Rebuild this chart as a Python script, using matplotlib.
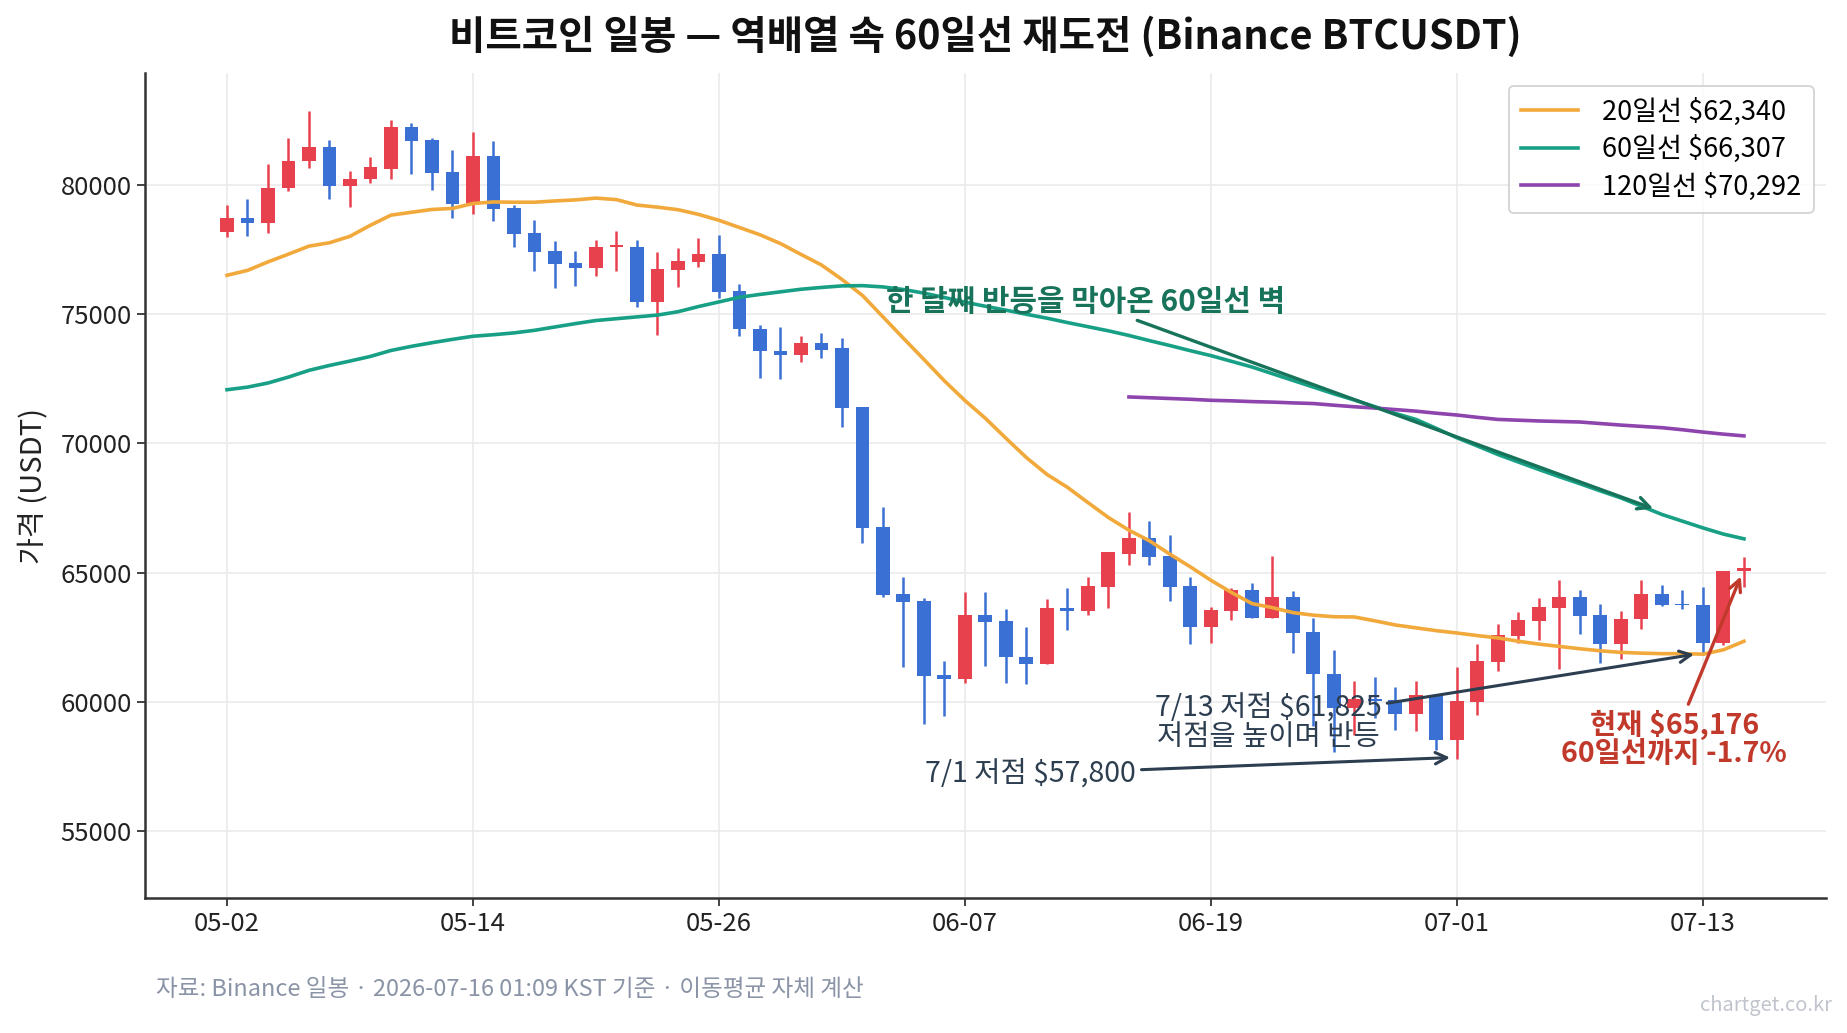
import matplotlib
matplotlib.use("Agg")
import matplotlib.pyplot as plt
import numpy as np

plt.rcParams['font.family'] = ['Noto Sans CJK KR', 'DejaVu Sans']

# 일봉 OHLC (05-02 ~ 07-15)
OPEN = [78190, 78720, 78540, 79880, 80930, 81470, 79970, 80230, 80630, 82250,
        81760, 80520, 79280, 81120, 79120, 78150, 77450, 76980, 76800, 77600,
        77620, 75480, 76720, 77020, 77350, 75900, 74440, 73590, 73410, 73890,
        73680, 71400, 66750, 64160, 63880, 61050, 60880, 63360, 63120, 61740,
        61470, 63620, 63510, 64440, 65720, 66340, 65650, 64480, 62910, 63520,
        64330, 63260, 64060, 62700, 61080, 59770, 60090, 60060, 59530, 60270,
        58530, 59980, 61520, 62560, 63120, 63630, 64050, 63340, 62230, 63190,
        64180, 63800, 63760, 62270, 65060]
HIGH = [79230, 79460, 80810, 81810, 82870, 81740, 80540, 81080, 82520, 82420,
        81840, 81360, 82050, 81700, 79230, 78640, 77830, 77440, 77870, 78220,
        77880, 77420, 77560, 77940, 78080, 76190, 74600, 74520, 74170, 74280,
        74100, 71420, 67550, 64820, 64030, 61570, 64260, 64230, 63580, 62910,
        63970, 64420, 64810, 65810, 67330, 67000, 66460, 64830, 63670, 64390,
        64610, 65650, 64290, 63260, 62000, 60800, 60960, 60570, 60790, 60270,
        61340, 62230, 63010, 63480, 64000, 64710, 64330, 63790, 63510, 64710,
        64520, 64330, 64440, 65070, 65610]
LOW = [78000, 78040, 78150, 79770, 80670, 79460, 79160, 80090, 80230, 80430,
       79810, 78730, 78880, 78600, 77600, 76670, 76020, 76090, 76490, 76670,
       75290, 74210, 76040, 76840, 75620, 74170, 72530, 72490, 73150, 73310,
       70620, 66160, 64050, 61360, 59120, 59450, 60710, 61370, 60740, 60700,
       61470, 62780, 63360, 63640, 65300, 65300, 63880, 62250, 62290, 63150,
       63230, 63260, 61900, 59060, 58060, 58700, 59350, 58890, 58860, 58120,
       57800, 59500, 61170, 62270, 62400, 61260, 62620, 61490, 61660, 62830,
       63700, 63600, 61825, 62210, 64440]
CLOSE = [78720, 78540, 79880, 80930, 81470, 79970, 80230, 80700, 82250, 81720,
         80480, 79280, 81120, 79080, 78110, 77420, 76950, 76800, 77600, 77640,
         75480, 76770, 77070, 77350, 75870, 74420, 73560, 73410, 73890, 73630,
         71380, 66720, 64120, 63850, 61010, 60880, 63360, 63090, 61720, 61470,
         63620, 63510, 64470, 65780, 66340, 65610, 64440, 62910, 63550, 64330,
         63260, 64060, 62670, 61060, 59770, 60090, 60030, 59540, 60270, 58530,
         60040, 61560, 62600, 63160, 63660, 64050, 63310, 62230, 63220, 64180,
         63740, 63730, 62270, 65060, 65176]

# 이동평균
MA20 = [76510, 76700, 77030, 77330, 77640, 77770, 78020, 78450, 78840, 78950,
        79060, 79100, 79290, 79350, 79340, 79340, 79390, 79430, 79500, 79440,
        79230, 79150, 79050, 78870, 78640, 78360, 78080, 77740, 77320, 76910,
        76350, 75730, 74900, 74070, 73250, 72420, 71660, 70970, 70200, 69450,
        68800, 68300, 67710, 67130, 66640, 66230, 65710, 65220, 64700, 64230,
        63800, 63640, 63450, 63350, 63290, 63280, 63130, 62970, 62860, 62750,
        62660, 62560, 62470, 62340, 62230, 62140, 62050, 61970, 61910, 61880,
        61860, 61860, 61840, 62010, 62340]
MA60 = [72080, 72180, 72340, 72570, 72830, 73020, 73190, 73370, 73600, 73760,
        73900, 74030, 74150, 74210, 74280, 74380, 74510, 74640, 74760, 74830,
        74900, 74970, 75100, 75300, 75480, 75660, 75770, 75870, 75970, 76040,
        76100, 76110, 76060, 75960, 75820, 75650, 75470, 75310, 75160, 75000,
        74850, 74680, 74520, 74360, 74180, 73980, 73790, 73590, 73400, 73180,
        72960, 72700, 72440, 72180, 71920, 71680, 71420, 71160, 70930, 70580,
        70220, 69900, 69570, 69280, 68990, 68710, 68440, 68160, 67890, 67570,
        67250, 66990, 66730, 66490, 66307]
MA120_START = 44
MA120 = [71800, 71770, 71740, 71710, 71670, 71650, 71620, 71600, 71570, 71545,
         71480, 71420, 71370, 71310, 71250, 71170, 71100, 71010, 70930, 70900,
         70870, 70850, 70830, 70770, 70710, 70660, 70610, 70530, 70440, 70360,
         70292]

TICK_POS = [0, 12, 24, 36, 48, 60, 72]
TICK_LABELS = ['05-02', '05-14', '05-26', '06-07', '06-19', '07-01', '07-13']
Y_TICKS = [55000, 60000, 65000, 70000, 75000, 80000]

UP = '#e8414e'
DOWN = '#3a6fd3'
C20 = '#f2a93b'
C60 = '#17a085'
C120 = '#8e44ad'

o = np.array(OPEN); h = np.array(HIGH); l = np.array(LOW); c = np.array(CLOSE)
x = np.arange(len(o))
colors = np.where(c >= o, UP, DOWN)

fig = plt.figure(figsize=(18.47, 10.33), dpi=100)
ax = fig.add_axes([0.0785, 0.1307, 0.9101, 0.7983])

ax.grid(color='#ebebeb', lw=1.2, zorder=0)
ax.set_axisbelow(True)

ax.vlines(x, l, h, colors=colors, lw=1.8, zorder=2)
body = np.maximum(np.abs(c - o), 70)
ax.bar(x, body, bottom=np.minimum(o, c), width=0.68, color=colors, zorder=3)

ax.plot(x, MA20, color=C20, lw=2.6, zorder=4,
        label=f'20일선 ${MA20[-1]:,}')
ax.plot(x, MA60, color=C60, lw=2.6, zorder=4,
        label=f'60일선 ${MA60[-1]:,}')
ax.plot(np.arange(MA120_START, MA120_START + len(MA120)), MA120, color=C120,
        lw=2.6, zorder=4, label=f'120일선 ${MA120[-1]:,}')

ax.set_xlim(-4, 78)
ax.set_ylim(52400, 84330)
ax.set_xticks(TICK_POS)
ax.set_xticklabels(TICK_LABELS)
ax.set_yticks(Y_TICKS)
ax.tick_params(labelsize=18.5, colors='#222222', length=6, width=1.2)
ax.set_ylabel('가격 (USDT)', fontsize=21, color='#222222', labelpad=8)

for s in ['top', 'right']:
    ax.spines[s].set_visible(False)
for s in ['left', 'bottom']:
    ax.spines[s].set_linewidth(1.8)
    ax.spines[s].set_color('#333333')

leg = ax.legend(loc='upper right', fontsize=19.5, frameon=True, fancybox=True,
                handlelength=2.1, handletextpad=0.9, borderpad=0.45,
                labelspacing=0.35, borderaxespad=0.45)
leg.get_frame().set_edgecolor('#cccccc')
leg.get_frame().set_linewidth(1.4)

# 주석
ax.annotate('한 달째 반등을 막아온 60일선 벽', xy=(69.7, 67440),
            xytext=(41.9, 75490), ha='center', va='center', fontsize=21.5,
            fontweight='bold', color='#17735a', zorder=6,
            arrowprops=dict(arrowstyle='->', color='#17735a', lw=2.4))
ax.annotate('7/1 저점 $57,800', xy=(59.8, 57840), xytext=(39.2, 57200),
            ha='center', va='center', fontsize=20.5, color='#2c3e50', zorder=6,
            arrowprops=dict(arrowstyle='->', color='#2c3e50', lw=2.2))
ax.annotate('7/13 저점 $61,825\n저점을 높이며 반등', xy=(71.7, 61850),
            xytext=(50.8, 59210), ha='center', va='center', fontsize=20.5,
            color='#2c3e50', linespacing=0.95, zorder=6,
            arrowprops=dict(arrowstyle='->', color='#2c3e50', lw=2.2))
ax.annotate('현재 $65,176\n60일선까지 -1.7%', xy=(73.9, 64950),
            xytext=(70.6, 58570), ha='center', va='center', fontsize=20.5,
            fontweight='bold', color='#c0392b', linespacing=1.0, zorder=6,
            arrowprops=dict(arrowstyle='->', color='#c0392b', lw=2.4))

fig.text(0.5336, 0.964, '비트코인 일봉 — 역배열 속 60일선 재도전 (Binance BTCUSDT)',
         ha='center', va='center', fontsize=28.5, fontweight='bold', color='#111111')
fig.text(0.0842, 0.042, '자료: Binance 일봉 · 2026-07-16 01:09 KST 기준 · 이동평균 자체 계산',
         ha='left', va='center', fontsize=17, color='#8a94a6')
fig.text(0.992, 0.027, 'chartget.co.kr', ha='right', va='center',
         fontsize=14.5, color='#c0c4cc')

fig.savefig('out.png', dpi=100)
